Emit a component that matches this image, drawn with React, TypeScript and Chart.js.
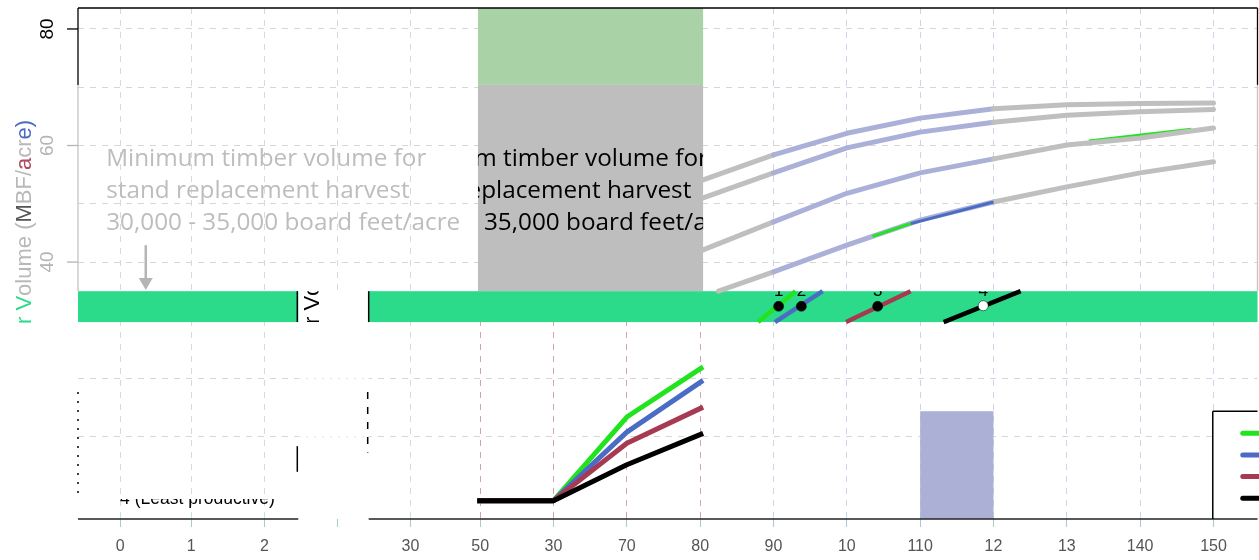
import React, { useEffect, useRef } from "react";
import { Chart, registerables } from "chart.js";

Chart.register(...registerables);

// ---------------- data ----------------
const xTickValues = [0.9, 10.6, 20.6, 30.5, 40.5, 50, 60, 70, 80, 90, 100, 110, 120, 130, 140, 150];
const xTickLabels = ["0", "1", "2", "", "30", "50", "30", "70", "80", "90", "10", "110", "12", "13", "140", "150"];
const yGridValues = [10, 20, 30, 40, 50, 60, 70, 80];
const yLabelValues = [80, 60, 40];
const yLabelTexts = ["80", "60", "40"];
const yLabelColors = ["#000000", "#b4b4b4", "#b4b4b4"];

const yTitleParts = ["r V", "olume (", "M", "BF/", "a", "cr", "e)"];
const yTitleColors = ["#2cdb8a", "#b8b8b8", "#555555", "#b8b8b8", "#b04a60", "#b8b8b8", "#4a6cc4"];

const seriesColors = ["#22e41e", "#4a6cc4", "#a63a52", "#000000"];

// early growth (stand age 50-80)
const earlyAge = [49.6, 60, 70, 80.4];
const earlyVolume1 = [-0.95, -0.95, 13.4, 22.0];
const earlyVolume2 = [-0.95, -0.95, 10.8, 19.7];
const earlyVolume3 = [-0.95, -0.95, 8.9, 15.1];
const earlyVolume4 = [-0.95, -0.95, 5.2, 10.6];

// mature growth curves
const matureAge = [80.4, 90, 100, 110, 120, 130, 140, 150];
const matureVolumeA = [54.1, 58.4, 62.1, 64.7, 66.3, 67.0, 67.2, 67.3];
const matureVolumeB = [51.0, 55.3, 59.6, 62.3, 64.0, 65.2, 65.8, 66.2];
const matureVolumeC = [42.1, 46.9, 51.8, 55.3, 57.7, 60.1, 61.3, 63.0];
const matureAgeD = [82.5, 90, 100, 110, 120, 130, 140, 150];
const matureVolumeD = [35.0, 38.3, 42.9, 47.2, 50.3, 52.9, 55.3, 57.2];
const highlightAge = [90, 120];

// coloured slivers on the curves
const sliverAgeC = [133, 147];
const sliverVolumeC = [60.7, 62.7];
const sliverAgeD1 = [103.5, 108.7];
const sliverVolumeD1 = [44.4, 46.6];
const sliverAgeD2 = [108.7, 120];
const sliverVolumeD2 = [46.6, 50.3];

// crossing of the harvest band
const crossAgeStart = [87.9, 90.2, 99.9, 113.2];
const crossAgeEnd = [93.0, 96.7, 108.7, 123.7];
const crossVolume = [29.7, 35.0];
const thresholdAge = [90.7, 93.8, 104.2, 118.6];
const thresholdVolume = [32.4, 32.4, 32.4, 32.5];
const thresholdLabels = ["1", "2", "3", "4"];
const thresholdFill = ["#000000", "#000000", "#000000", "#ffffff"];

// areas
const windowAge = [49.7, 80.4];
const replacementVolume = [35.0, 70.4];
const greenZoneVolume = [70.4, 83.6];
const bandVolume = [29.7, 35.0];
const bandGapAge = [25.2, 34.8];
const barAge = [110, 120];
const barVolume = 14.4;
const legendAge = 149.9;
const legendTopVolume = 14.4;

// annotation
const noteLines = ["Minimum timber volume for", "stand replacement harvest", "30,000 - 35,000 board feet/acre"];
const noteAge = -1.0;
const noteVolume = [56.5, 51.0, 45.5];
const noteCopyShiftAge = 38.4;
const arrowAge = 4.4;
const arrowVolume = [42.9, 35.2];
const legendFragment = "4 (Least productive)";
const legendFragmentAge = 0.9;

const pts = (xs: number[], ys: number[]) => xs.map((x, i) => ({ x, y: ys[i] }));
const GRAY = "#bfbfbf";
const LAV = "#aab0d8";

function vText(ctx: CanvasRenderingContext2D, parts: string[], colors: string[], bx: number, sy: number, font: string, align: CanvasTextAlign = "left") {
  ctx.save();
  ctx.font = font;
  ctx.translate(bx, sy);
  ctx.rotate(-Math.PI / 2);
  ctx.textBaseline = "alphabetic";
  ctx.textAlign = align;
  let off = 0;
  parts.forEach((p, i) => {
    ctx.fillStyle = colors[i];
    ctx.fillText(p, off, 0);
    off += ctx.measureText(p).width;
  });
  ctx.restore();
}

const decor = {
  id: "decor",
  beforeDatasetsDraw(chart: any) {
    const { ctx, chartArea: a, scales } = chart;
    const X = (v: number) => scales.x.getPixelForValue(v);
    const Y = (v: number) => scales.y.getPixelForValue(v);
    const rect = (x0: number, y0: number, x1: number, y1: number, c: string) => {
      ctx.fillStyle = c;
      ctx.fillRect(Math.min(x0, x1), Math.min(y0, y1), Math.abs(x1 - x0), Math.abs(y1 - y0));
    };
    ctx.save();
    rect(X(windowAge[0]), Y(greenZoneVolume[1]), X(windowAge[1]), Y(greenZoneVolume[0]), "#a9d3a7");
    rect(X(windowAge[0]), Y(replacementVolume[1]), X(windowAge[1]), Y(replacementVolume[0]), "#bebebe");
    rect(a.left, Y(bandVolume[1]), a.right, Y(bandVolume[0]), "#2cdb8a");
    rect(X(bandGapAge[0]), Y(bandVolume[1]) - 1, X(bandGapAge[1]), a.bottom, "#ffffff");
    rect(X(barAge[0]), Y(barVolume), X(barAge[1]), a.bottom, "#adb0d6");
    rect(X(legendAge), Y(legendTopVolume), a.right, a.bottom, "#ffffff");
    ctx.restore();
  },
  afterDatasetsDraw(chart: any) {
    const { ctx, chartArea: a, scales } = chart;
    const X = (v: number) => scales.x.getPixelForValue(v);
    const Y = (v: number) => scales.y.getPixelForValue(v);
    const line = (x0: number, y0: number, x1: number, y1: number, c: string, w: number, dash: number[] = []) => {
      ctx.save();
      ctx.strokeStyle = c;
      ctx.lineWidth = w;
      ctx.setLineDash(dash);
      ctx.beginPath();
      ctx.moveTo(x0, y0);
      ctx.lineTo(x1, y1);
      ctx.stroke();
      ctx.restore();
    };
    const gx0 = X(bandGapAge[0]);
    const gx1 = X(bandGapAge[1]);
    // faint dashed rows through the gap
    [20, 10].forEach((v) => line(gx0, Y(v), gx1, Y(v), "#dedede", 1, [2, 6]));
    // frame
    line(a.left, a.top, a.right, a.top, "#000", 1.3);
    line(a.left, a.top, a.left, Y(greenZoneVolume[0]), "#000", 1.3);
    line(a.left, Y(greenZoneVolume[0]), a.left, Y(bandVolume[1]), "#c4c4c4", 1.3);
    line(a.right, a.top, a.right, Y(greenZoneVolume[0]), "#000", 1.3);
    line(a.right, Y(greenZoneVolume[0]), a.right, Y(bandVolume[1]), "#c4c4c4", 1.3);
    line(a.left, a.bottom, gx0, a.bottom, "#222", 1.5);
    line(gx1, a.bottom, a.right, a.bottom, "#222", 1.5);
    line(gx0 - 1, Y(bandVolume[1]), gx0 - 1, Y(bandVolume[0]), "#000", 1.5);
    line(gx1, Y(bandVolume[1]), gx1, Y(bandVolume[0]), "#000", 1.5);
    // fragments
    line(a.left, Y(17.7), a.left, Y(0), "#000", 1.5, [2, 7]);
    line(gx0 - 1, Y(8.4), gx0 - 1, Y(4.0), "#000", 1.5);
    line(gx1 - 1, Y(17.7), gx1 - 1, Y(7.3), "#000", 1.5, [7, 8]);

    // legend fragment box
    const lx = X(legendAge);
    const ly = Y(legendTopVolume);
    line(lx, ly, a.right, ly, "#000", 1.5);
    line(lx, ly, lx, a.bottom, "#000", 1.5);
    seriesColors.forEach((c, i) => {
      ctx.save();
      ctx.strokeStyle = c;
      ctx.lineWidth = 5;
      ctx.lineCap = "round";
      ctx.beginPath();
      const yy = ly + 22 + i * 21.7;
      ctx.moveTo(lx + 30, yy);
      ctx.lineTo(a.right + 4, yy);
      ctx.stroke();
      ctx.restore();
    });

    // y ticks and rotated labels
    yLabelValues.forEach((v, i) => {
      line(a.left - 11, Y(v), a.left, Y(v), yLabelColors[i], 1.3);
      vText(ctx, [yLabelTexts[i]], [yLabelColors[i]], a.left - 25, Y(v), "19px 'Liberation Sans', Arial, sans-serif", "center");
    });

    // y title, and black copy in the gap
    const titleFont = "22px 'Liberation Sans', Arial, sans-serif";
    vText(ctx, yTitleParts, yTitleColors, 31, 324, titleFont);
    ctx.save();
    ctx.beginPath();
    ctx.rect(gx0, Y(bandVolume[1]), gx1 - gx0 - 1, Y(bandVolume[0]) - Y(bandVolume[1]));
    ctx.clip();
    vText(ctx, yTitleParts, yTitleParts.map(() => "#000"), 31 + 288, 324, titleFont);
    ctx.restore();

    // annotation
    const noteFont = "24.3px 'Open Sans', 'DejaVu Sans', sans-serif";
    ctx.save();
    ctx.font = noteFont;
    ctx.textAlign = "left";
    ctx.textBaseline = "alphabetic";
    ctx.fillStyle = "#bdbdbd";
    noteLines.forEach((t, i) => ctx.fillText(t, X(noteAge), Y(noteVolume[i])));
    ctx.beginPath();
    ctx.rect(X(windowAge[0]), Y(replacementVolume[1]), X(windowAge[1]) - X(windowAge[0]), Y(replacementVolume[0]) - Y(replacementVolume[1]));
    ctx.clip();
    ctx.fillStyle = "#000";
    noteLines.forEach((t, i) => ctx.fillText(t, X(noteAge + noteCopyShiftAge), Y(noteVolume[i])));
    ctx.restore();

    // arrow
    const ax = X(arrowAge);
    line(ax, Y(arrowVolume[0]), ax, Y(arrowVolume[1]) - 10, "#b5b5b5", 2.5);
    ctx.save();
    ctx.fillStyle = "#b5b5b5";
    ctx.beginPath();
    ctx.moveTo(ax - 7, Y(arrowVolume[1]) - 12);
    ctx.lineTo(ax + 7, Y(arrowVolume[1]) - 12);
    ctx.lineTo(ax, Y(arrowVolume[1]));
    ctx.closePath();
    ctx.fill();
    ctx.restore();

    // threshold labels (mostly hidden behind the band edge)
    ctx.save();
    ctx.beginPath();
    ctx.rect(a.left, Y(bandVolume[1]), a.right - a.left, 40);
    ctx.clip();
    ctx.font = "17px 'Liberation Sans', Arial, sans-serif";
    ctx.fillStyle = "#000";
    ctx.textAlign = "center";
    thresholdLabels.forEach((t, i) => ctx.fillText(t, X(thresholdAge[i]), Y(bandVolume[1]) + 5));
    ctx.restore();

    // legend fragment text (top clipped)
    ctx.save();
    ctx.beginPath();
    ctx.rect(a.left, a.bottom - 20, gx0 - a.left, 20);
    ctx.clip();
    ctx.font = "17.5px 'Liberation Sans', Arial, sans-serif";
    ctx.fillStyle = "#000";
    ctx.textAlign = "left";
    ctx.fillText(legendFragment, X(legendFragmentAge), a.bottom - 15);
    ctx.restore();
  },
};

function lineDs(data: any[], color: string, width: number, order: number, extra: any = {}) {
  return {
    type: "line",
    data,
    borderColor: color,
    borderWidth: width,
    pointRadius: 0,
    fill: false,
    tension: 0,
    borderCapStyle: "butt",
    borderJoinStyle: "round",
    order,
    ...extra,
  };
}

export default function App() {
  const ref = useRef<HTMLCanvasElement>(null);
  useEffect(() => {
    document.body.style.margin = "0";
    const curveSeg = {
      borderColor: (c: any) => (c.p0.parsed.x >= highlightAge[0] - 0.01 && c.p1.parsed.x <= highlightAge[1] + 0.01 ? LAV : GRAY),
    };
    const datasets: any[] = [
      {
        type: "line",
        data: pts(thresholdAge, thresholdVolume),
        showLine: false,
        pointRadius: 5,
        pointBackgroundColor: thresholdFill,
        pointBorderColor: "#000",
        pointBorderWidth: 0.5,
        order: 0,
      },
      ...seriesColors.map((c, i) =>
        lineDs(pts([crossAgeStart[i], crossAgeEnd[i]], crossVolume), c, 4.5, 1 + (3 - i) * 0.1)
      ),
      lineDs(pts(sliverAgeD1, sliverVolumeD1), seriesColors[0], 3, 2),
      lineDs(pts(sliverAgeD2, sliverVolumeD2), seriesColors[1], 3, 2),
      lineDs(pts(matureAge, matureVolumeA), GRAY, 5, 3, { segment: curveSeg, borderCapStyle: "round" }),
      lineDs(pts(matureAge, matureVolumeB), GRAY, 5, 3, { segment: curveSeg, borderCapStyle: "round" }),
      lineDs(pts(matureAge, matureVolumeC), GRAY, 5, 3, { segment: curveSeg, borderCapStyle: "round" }),
      lineDs(pts(matureAgeD, matureVolumeD), GRAY, 5, 3, { segment: curveSeg, borderCapStyle: "round" }),
      lineDs(pts(sliverAgeC, sliverVolumeC), seriesColors[0], 4, 4),
      lineDs(pts(earlyAge, earlyVolume4), seriesColors[3], 5, 5),
      lineDs(pts(earlyAge, earlyVolume3), seriesColors[2], 5, 6),
      lineDs(pts(earlyAge, earlyVolume2), seriesColors[1], 5, 7),
      lineDs(pts(earlyAge, earlyVolume1), seriesColors[0], 5, 8),
    ];
    const chart = new Chart(ref.current as HTMLCanvasElement, {
      type: "line",
      data: { datasets },
      options: {
        responsive: false,
        animation: false,
        events: [],
        layout: { padding: { top: 8, right: 0, left: 0, bottom: 0 } },
        plugins: { legend: { display: false }, tooltip: { enabled: false }, title: { display: false } },
        scales: {
          x: {
            type: "linear",
            min: -4.84,
            max: 156,
            afterBuildTicks: (s: any) => {
              s.ticks = xTickValues.map((v) => ({ value: v }));
            },
            afterFit: (s: any) => {
              s.height = 41;
            },
            ticks: {
              autoSkip: false,
              maxRotation: 0,
              minRotation: 0,
              padding: 10,
              color: "#555",
              font: { family: "'Liberation Sans', Arial, sans-serif", size: 16 },
              callback: (_v: any, i: number) => xTickLabels[i],
            },
            grid: {
              color: (c: any) => {
                const v = c.tick ? c.tick.value : 0;
                if (v >= 50 && v <= 80) return "rgba(200,150,160,0.85)";
                if (v >= 90) return "#cfd2ea";
                return "#d9d9d9";
              },
              lineWidth: 1,
              tickLength: 8,
              tickColor: "#a8cccc",
            },
            border: { display: false, dash: [6, 6] },
          },
          y: {
            type: "linear",
            min: -4.1,
            max: 83.6,
            afterBuildTicks: (s: any) => {
              s.ticks = yGridValues.map((v) => ({ value: v }));
            },
            afterFit: (s: any) => {
              s.width = 78;
            },
            ticks: { display: false },
            grid: { color: "#d6d6d6", lineWidth: 1, drawTicks: false },
            border: { display: false, dash: [6, 6] },
          },
        },
      } as any,
      plugins: [decor],
    } as any);
    return () => chart.destroy();
  }, []);
  return (
    <div style={{ width: 1259, height: 560, overflow: "hidden" }}>
      <canvas ref={ref} width={1263} height={560} style={{ display: "block" }} />
    </div>
  );
}
